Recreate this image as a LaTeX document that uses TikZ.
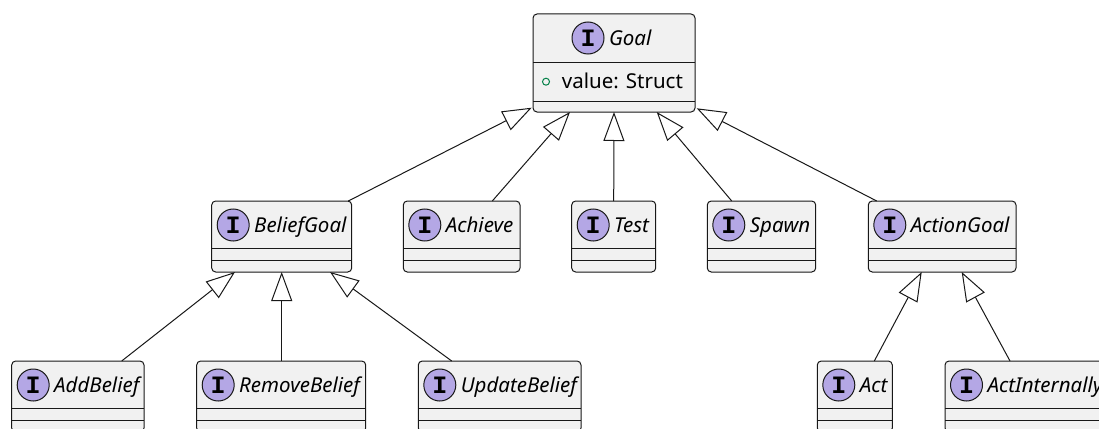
\documentclass[tikz,border=0pt]{standalone}
\usepackage{fontspec}
\setmainfont{Noto Sans}
\newfontfamily\glyphfont{Liberation Mono}
\usetikzlibrary{arrows.meta}

\definecolor{ink}{HTML}{181818}
\definecolor{boxfill}{HTML}{F1F1F1}
\definecolor{ifacefill}{HTML}{B4A7E5}
\definecolor{pubgreen}{HTML}{038048}

\tikzset{
  umlbox/.style={draw=ink, fill=boxfill, line width=1pt, rounded corners=4pt,
    anchor=north west, inner sep=0pt, outer sep=0pt},
  sepline/.style={draw=ink, line width=1pt},
  ifacemark/.style={circle, draw=ink, fill=ifacefill, line width=1pt,
    minimum size=32pt, inner sep=0pt,
    font=\glyphfont\bfseries\fontsize{25}{25}\selectfont},
  typename/.style={anchor=base west, inner sep=0pt,
    font=\itshape\fontsize{20.5}{20.5}\selectfont},
  membertext/.style={anchor=base west, inner sep=0pt,
    font=\fontsize{20.5}{20.5}\selectfont},
  vismark/.style={circle, draw=pubgreen, line width=1pt, minimum size=7pt,
    inner sep=0pt},
  gen/.style={draw=ink, line width=1pt,
    -{Triangle[length=29pt, width=21pt, fill=white]}},
}

% interface box: name, left, top, width, height, label, header indent
\newcommand\ifacebox[7]{%
  \node[umlbox, minimum width=#4pt, minimum height=#5pt] (#1) at (#2,#3) {};
  \node[ifacemark] (#1-mark) at ([xshift=#7pt,yshift=-24pt]#1.north west) {I};
  \node[typename] (#1-name) at ([xshift=#7pt+20.8pt,yshift=-31.5pt]#1.north west) {#6};
}
% two compartment lines below the header
\newcommand\compartments[3]{%
  \draw[sepline] ([yshift=-#2pt]#1.north west) -- ([yshift=-#2pt]#1.north east);
  \draw[sepline] ([yshift=-#3pt]#1.north west) -- ([yshift=-#3pt]#1.north east);
}

\begin{document}
\begin{tikzpicture}[x=1pt, y=-1pt]
  \useasboundingbox (0,0) rectangle (1099,428);
  \clip (0,0) rectangle (1099,428);
  \fill[white] (0,0) rectangle (1099,428);

  % top interface
  \ifacebox{goal}{533}{14}{162}{98}{Goal}{55}
  \compartments{goal}{48}{87}
  \node[vismark] (goal-vis) at ([xshift=13pt,yshift=-67.7pt]goal.north west) {};
  \node[membertext] (goal-attr) at ([xshift=28.7pt,yshift=-74.3pt]goal.north west) {value: Struct};

  % second row
  \ifacebox{belief}{211.7}{201}{140}{71}{BeliefGoal}{21.5}
  \compartments{belief}{47}{59.5}
  \ifacebox{achieve}{403.3}{201}{116.7}{71}{Achieve}{21.5}
  \compartments{achieve}{47}{59.5}
  \ifacebox{test}{571.7}{201}{84}{71}{Test}{21.5}
  \compartments{test}{47}{59.5}
  \ifacebox{spawn}{707.3}{201}{108.4}{71}{Spawn}{21.5}
  \compartments{spawn}{47}{59.5}
  \ifacebox{action}{868.3}{201}{147.7}{71}{ActionGoal}{21.5}
  \compartments{action}{47}{59.5}

  % third row
  \ifacebox{add}{11.7}{361}{132.3}{71}{AddBelief}{21.5}
  \compartments{add}{47}{59.5}
  \ifacebox{remove}{196.7}{361}{169}{71}{RemoveBelief}{21.5}
  \compartments{remove}{47}{59.5}
  \ifacebox{update}{418.3}{361}{162.7}{71}{UpdateBelief}{21.5}
  \compartments{update}{47}{59.5}
  \ifacebox{act}{817.3}{361}{75}{71}{Act}{21.5}
  \compartments{act}{47}{59.5}
  \ifacebox{actint}{945}{361}{180}{71}{ActInternally}{21.5}
  \compartments{actint}{47}{59.5}

  % generalizations to Goal
  \draw[gen] ([xshift=136.6pt]belief.north west) -- ([xshift=-1.3pt,yshift=4.3pt]goal.south west);
  \draw[gen] ([xshift=89pt]achieve.north west) -- ([xshift=37pt]goal.south west);
  \draw[gen] (test.north) -- (goal.south);
  \draw[gen] ([xshift=24.4pt]spawn.north west) -- ([xshift=123.7pt]goal.south west);
  \draw[gen] ([xshift=8.4pt]action.north west) -- ([xshift=1.7pt,yshift=3.7pt]goal.south east);

  % generalizations to BeliefGoal
  \draw[gen] ([xshift=110pt]add.north west) -- ([xshift=23.3pt]belief.south west);
  \draw[gen] ([xshift=85pt]remove.north west) -- ([xshift=70pt]belief.south west);
  \draw[gen] ([xshift=33.4pt]update.north west) -- ([xshift=118.3pt]belief.south west);

  % generalizations to ActionGoal
  \draw[gen] ([xshift=57pt]act.north west) -- ([xshift=53.4pt]action.south west);
  \draw[gen] ([xshift=65pt]actint.north west) -- ([xshift=93.4pt]action.south west);
\end{tikzpicture}
\end{document}
